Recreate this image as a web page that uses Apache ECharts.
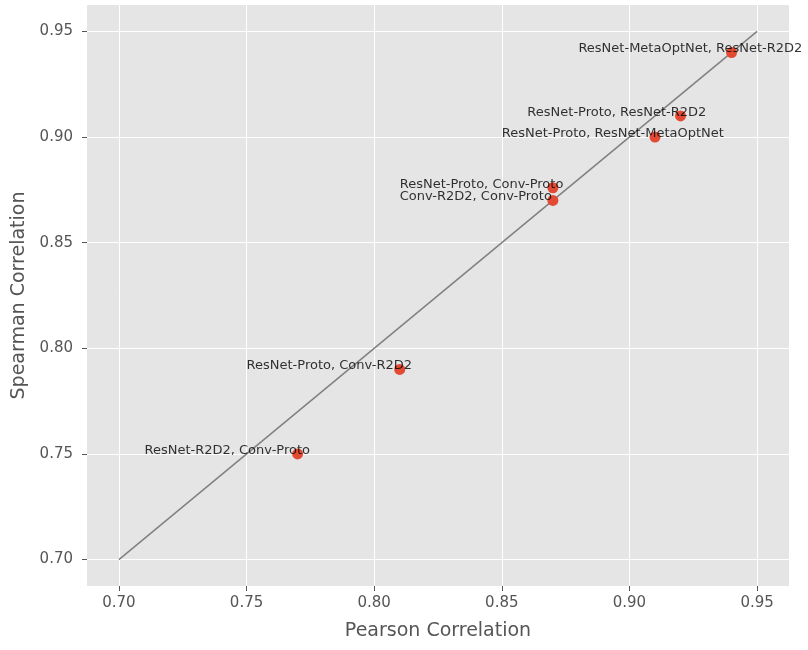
<!DOCTYPE html>
<html>
<head>
<meta charset="utf-8">
<script src="https://cdn.jsdelivr.net/npm/echarts@6/dist/echarts.min.js"></script>
<style>html,body{margin:0;padding:0;background:#fff;}#c{width:808px;height:650px;}</style>
</head>
<body>
<div id="c"></div>
<script>
const pairNames = [
  'ResNet-MetaOptNet, ResNet-R2D2',
  'ResNet-Proto, ResNet-R2D2',
  'ResNet-Proto, ResNet-MetaOptNet',
  'ResNet-Proto, Conv-Proto',
  'Conv-R2D2, Conv-Proto',
  'ResNet-Proto, Conv-R2D2',
  'ResNet-R2D2, Conv-Proto'
];
const pearson  = [0.94, 0.92, 0.91, 0.87, 0.87, 0.81, 0.77];
const spearman = [0.94, 0.91, 0.90, 0.876, 0.87, 0.79, 0.75];
const xTicks = [0.70, 0.75, 0.80, 0.85, 0.90, 0.95];
const yTicks = [0.70, 0.75, 0.80, 0.85, 0.90, 0.95];
const diagonal = [[0.70, 0.70], [0.95, 0.95]];

const labelShift = 0.06;
const FONT = 'DejaVu Sans';

const points = pearson.map((x, i) => [x, spearman[i]]);
const labelPts = pearson.map((x, i) => ({ value: [x - labelShift, spearman[i]], name: pairNames[i] }));

function axis(name, ticks, isY) {
  return {
    type: 'value',
    min: 0.6875, max: 0.9625,
    name: name,
    nameLocation: 'middle',
    nameGap: isY ? 58 : 36,
    nameTextStyle: { color: '#555555', fontSize: 19, fontFamily: FONT },
    axisLine: { show: false },
    axisTick: { show: true, customValues: ticks, length: 5, lineStyle: { color: '#555555', width: 1 } },
    axisLabel: { customValues: ticks, color: '#555555', fontSize: 15, fontFamily: FONT, margin: isY ? 14 : 10,
      formatter: v => v.toFixed(2) },
    splitLine: { show: true, lineStyle: { color: '#ffffff', width: 1 } }
  };
}

const chart = echarts.init(document.getElementById('c'), null, { renderer: 'canvas' });
chart.setOption({
  animation: false,
  backgroundColor: '#ffffff',
  grid: { left: 87, right: 19, top: 5, bottom: 64, show: true, backgroundColor: '#E5E5E5', borderWidth: 0 },
  xAxis: axis('Pearson Correlation', xTicks, false),
  yAxis: axis('Spearman Correlation', yTicks, true),
  series: [
    {
      type: 'line', data: diagonal, symbol: 'none', z: 2,
      lineStyle: { color: '#808080', width: 1.5 }
    },
    {
      type: 'scatter', data: points, symbolSize: 11, z: 3,
      itemStyle: { color: '#E24A33', opacity: 1 }
    },
    {
      type: 'scatter', data: labelPts, symbolSize: 0, z: 4, silent: true,
      label: {
        show: true, position: [0, 0], offset: [0, 3], align: 'left', verticalAlign: 'bottom',
        formatter: p => p.name, color: '#000000', fontSize: 13, fontFamily: FONT
      }
    }
  ]
});
</script>
</body>
</html>
